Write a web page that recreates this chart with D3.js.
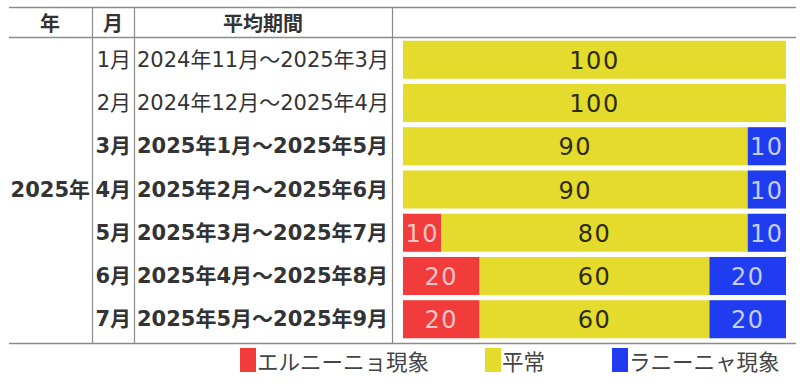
<!DOCTYPE html>
<html><head><meta charset="utf-8">
<script src="https://cdn.jsdelivr.net/npm/d3@7"></script>
<style>body{margin:0;background:#fff}svg{display:block}</style>
</head><body><svg id="c" width="800" height="386"></svg>
<script>
const yearLabel = "2025年";
const months = ["1月","2月","3月","4月","5月","6月","7月"];
const periods = ["2024年11月～2025年3月","2024年12月～2025年4月","2025年1月～2025年5月","2025年2月～2025年6月","2025年3月～2025年7月","2025年4月～2025年8月","2025年5月～2025年9月"];
const boldRow = [false,false,true,true,true,true,true];
const elNino = [0,0,0,0,10,20,20];
const normal = [100,100,90,90,80,60,60];
const laNina = [0,0,10,10,10,20,20];
const seriesNames = ["エルニーニョ現象","平常","ラニーニャ現象"];
const headers = ["年","月","平均期間"];

const colors = ["#f23b3b","#e5db2c","#1f3cf0"];
const textColors = ["#f6c4c4","#2e2c05","#c4ccf6"];
const font = "'DejaVu Sans','Noto Sans CJK JP',sans-serif";

const svg = d3.select("#c");
const y = d3.scaleBand().domain(d3.range(months.length)).range([39, 340]).paddingInner(0.12).paddingOuter(0.04);
const x = d3.scaleLinear().domain([0,100]).range([403, 786]);

// grid lines
const lc = "#8a8a8a";
[7.5,37.5,343.5].forEach(v=>svg.append("line").attr("x1",9).attr("x2",796).attr("y1",v).attr("y2",v).attr("stroke",lc).attr("stroke-width",1.5));
[92.5,134.5,392.5].forEach(v=>svg.append("line").attr("x1",v).attr("x2",v).attr("y1",7).attr("y2",344).attr("stroke",lc).attr("stroke-width",1.2));

// headers
const hx = [50,113,263];
svg.selectAll("text.h").data(headers).join("text").attr("class","h")
  .attr("x",(d,i)=>hx[i]).attr("y",22).attr("text-anchor","middle").attr("dominant-baseline","central")
  .attr("font-family","'Noto Sans CJK JP',sans-serif").attr("font-weight","bold").attr("font-size",20).attr("fill","#333").text(d=>d);

// year label
svg.append("text").attr("x",90).attr("y",y(3)+y.bandwidth()/2).attr("text-anchor","end").attr("dominant-baseline","central")
  .attr("font-family",font).attr("font-weight","bold").attr("font-size",21).attr("fill","#333").text(yearLabel);

// months
svg.selectAll("text.m").data(months).join("text").attr("class","m")
  .attr("x",131).attr("y",(d,i)=>y(i)+y.bandwidth()/2).attr("text-anchor","end").attr("dominant-baseline","central")
  .attr("font-family",font).attr("font-weight",(d,i)=>boldRow[i]?"bold":"normal").attr("font-size",21).attr("fill","#333").text(d=>d);

// periods
svg.selectAll("text.p").data(periods).join("text").attr("class","p")
  .attr("x",137).attr("y",(d,i)=>y(i)+y.bandwidth()/2).attr("text-anchor","start").attr("dominant-baseline","central")
  .attr("font-family",font).attr("font-weight",(d,i)=>boldRow[i]?"bold":"normal").attr("font-size",21).attr("fill","#333").text(d=>d);

// stacked bars
const rows = months.map((m,i)=>({i, v:[elNino[i],normal[i],laNina[i]]}));
const segs = [];
rows.forEach(r=>{let acc=0; r.v.forEach((v,k)=>{ if(v>0) segs.push({i:r.i,k,v,x0:acc,x1:acc+v}); acc+=v;});});
svg.selectAll("rect.s").data(segs).join("rect").attr("class","s")
  .attr("x",d=>x(d.x0)).attr("width",d=>x(d.x1)-x(d.x0)).attr("y",d=>y(d.i)).attr("height",y.bandwidth())
  .attr("fill",d=>colors[d.k]);
svg.selectAll("text.v").data(segs).join("text").attr("class","v")
  .attr("x",d=>(x(d.x0)+x(d.x1))/2).attr("y",d=>y(d.i)+y.bandwidth()/2+1).attr("text-anchor","middle").attr("dominant-baseline","central")
  .attr("font-family",font).attr("font-size",24).attr("letter-spacing",1.5).attr("fill",d=>textColors[d.k]).text(d=>d.v);

// legend
const lgx = [240,485,612];
const lg = svg.selectAll("g.lg").data(seriesNames).join("g").attr("class","lg").attr("transform",(d,i)=>`translate(${lgx[i]},348)`);
lg.append("rect").attr("width",16).attr("height",24).attr("fill",(d,i)=>colors[i]);
lg.append("text").attr("x",17).attr("y",12).attr("dominant-baseline","central").attr("font-family","'Noto Sans CJK JP',sans-serif")
  .attr("font-size",21.5).attr("fill","#444").text(d=>d);
</script></body></html>
